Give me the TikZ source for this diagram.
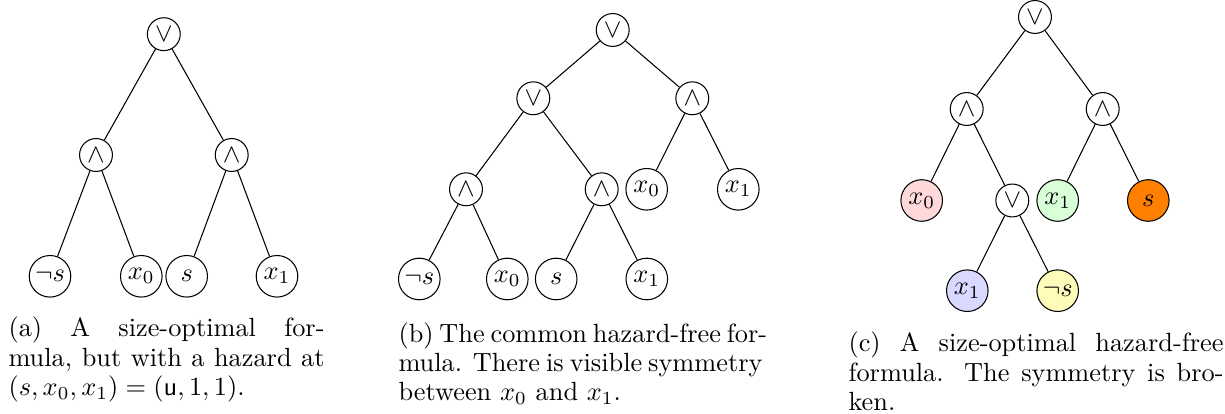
\documentclass[tikz,border=0pt]{standalone}
\colorlet{fillpink}{red!15}
\colorlet{fillgreen}{green!15}
\colorlet{fillblue}{blue!15}
\colorlet{fillyellow}{yellow!28}
\colorlet{fillorange}{orange}
\begin{document}
\begin{tikzpicture}[x=0.38pt,y=-0.38pt,
  every node/.style={font=\fontsize{10}{11.2}\selectfont},
  opnode/.style={circle,draw,line width=0.4pt,inner sep=0pt,minimum size=12.5pt},
  leafnode/.style={circle,draw,line width=0.4pt,inner sep=0pt,minimum size=15.8pt},
  captext/.style={anchor=base west,inner sep=0pt},
  edgeline/.style={draw,line width=0.4pt}]
\useasboundingbox (0,0) rectangle (1225,414);

% ---------- (a) ----------
\node[opnode] (a0) at (163.8,34.2) {$\vee$};
\node[opnode] (a1) at (96,155) {$\wedge$};
\node[opnode] (a2) at (231.7,155) {$\wedge$};
\node[leafnode] (a3) at (50,276.3) {$\neg s$};
\node[leafnode] (a4) at (141.3,276.3) {$x_0$};
\node[leafnode] (a5) at (186.7,276.3) {$s$};
\node[leafnode] (a6) at (277,276.3) {$x_1$};
\path[edgeline] (a0) -- (a1);
\path[edgeline] (a0) -- (a2);
\path[edgeline] (a1) -- (a3);
\path[edgeline] (a1) -- (a4);
\path[edgeline] (a2) -- (a5);
\path[edgeline] (a2) -- (a6);
\node[captext] (ca1) at (8,337) {\makebox[120.1pt][s]{(a) A size-optimal for-}};
\node[captext] (ca2) at (8,366.5) {\makebox[120.1pt][s]{mula, but with a hazard at}};
\node[captext] (ca3) at (8,396) {$(s, x_0, x_1) = (\mathsf{u}, 1, 1)$.};

% ---------- (b) ----------
\node[opnode] (b0) at (612.7,30) {$\vee$};
\node[opnode] (b1) at (533.3,98.3) {$\vee$};
\node[opnode] (b2) at (692.3,98.3) {$\wedge$};
\node[opnode] (b3) at (466,189.3) {$\wedge$};
\node[opnode] (b4) at (601.7,189.3) {$\wedge$};
\node[leafnode] (b5) at (646.7,189.3) {$x_0$};
\node[leafnode] (b6) at (738.3,189.3) {$x_1$};
\node[leafnode] (b7) at (419.3,279) {$\neg s$};
\node[leafnode] (b8) at (507.3,279) {$x_0$};
\node[leafnode] (b9) at (556.2,279) {$s$};
\node[leafnode] (b10) at (646.8,279) {$x_1$};
\path[edgeline] (b0) -- (b1);
\path[edgeline] (b0) -- (b2);
\path[edgeline] (b1) -- (b3);
\path[edgeline] (b1) -- (b4);
\path[edgeline] (b2) -- (b5);
\path[edgeline] (b2) -- (b6);
\path[edgeline] (b3) -- (b7);
\path[edgeline] (b3) -- (b8);
\path[edgeline] (b4) -- (b9);
\path[edgeline] (b4) -- (b10);
\node[captext] (cb1) at (398,343) {\makebox[138.3pt][s]{(b) The common hazard-free for-}};
\node[captext] (cb2) at (398,372) {\makebox[138.3pt][s]{mula. There is visible symmetry}};
\node[captext] (cb3) at (398,400.5) {between $x_0$ and $x_1$.};

% ---------- (c) ----------
\node[opnode] (c0) at (1035,17) {$\vee$};
\node[opnode] (c1) at (966.7,109) {$\wedge$};
\node[opnode] (c2) at (1102.7,109) {$\wedge$};
\node[leafnode,fill=fillpink] (c3) at (921.7,200.5) {$x_0$};
\node[opnode] (c4) at (1012.3,200.5) {$\vee$};
\node[leafnode,fill=fillgreen] (c5) at (1057.7,200.5) {$x_1$};
\node[leafnode,fill=fillorange] (c6) at (1148.3,200.5) {$s$};
\node[leafnode,fill=fillblue] (c7) at (967.3,290.7) {$x_1$};
\node[leafnode,fill=fillyellow] (c8) at (1057.7,290.7) {$\neg s$};
\path[edgeline] (c0) -- (c1);
\path[edgeline] (c0) -- (c2);
\path[edgeline] (c1) -- (c3);
\path[edgeline] (c1) -- (c4);
\path[edgeline] (c2) -- (c5);
\path[edgeline] (c2) -- (c6);
\path[edgeline] (c4) -- (c7);
\path[edgeline] (c4) -- (c8);
\node[captext] (cc1) at (848,352) {\makebox[142.5pt][s]{(c) A size-optimal hazard-free}};
\node[captext] (cc2) at (848,381.5) {\makebox[142.5pt][s]{formula. The symmetry is bro-}};
\node[captext] (cc3) at (848,411) {ken.};
\end{tikzpicture}
\end{document}
